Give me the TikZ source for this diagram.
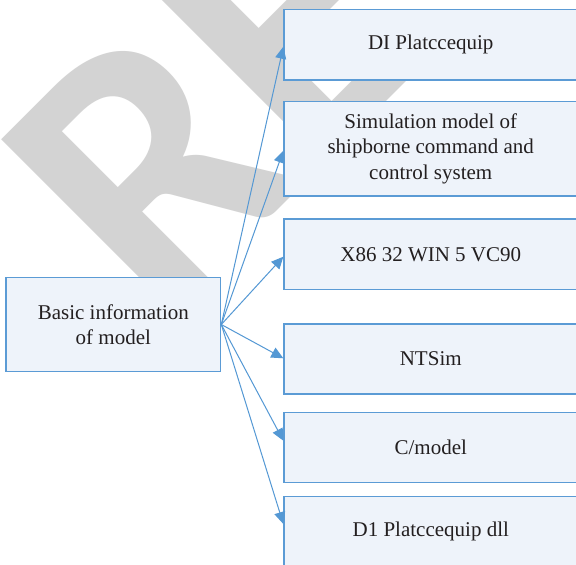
\documentclass[tikz,border=0pt]{standalone}
\usepackage{fontspec}
\setmainfont{Liberation Serif}
\newfontfamily\wmfont{Carlito}
\usetikzlibrary{arrows.meta}
\definecolor{bordblue}{RGB}{91,155,213}
\definecolor{arrblue}{RGB}{84,152,212}
\definecolor{boxfill}{RGB}{238,243,250}
\definecolor{wmgrey}{RGB}{211,211,211}
\definecolor{txt}{RGB}{35,31,32}
\begin{document}
\begin{tikzpicture}[x=1pt,y=-1pt,
  box/.style={draw=bordblue,fill=boxfill,line width=1.3pt,inner sep=0pt,align=center,text=txt,font=\fontsize{21}{25.5}\selectfont},
  rbox/.style={box,minimum width=293.5pt},
  conn/.style={draw=arrblue,line width=1pt,-{Triangle[length=12pt,width=11pt]}},
  wm/.style={rotate=45,anchor=base west,inner sep=0pt,text=wmgrey,font=\wmfont\bfseries\fontsize{378}{400}\selectfont}]
\clip (0,0) rectangle (576,565);
\fill[white] (0,0) rectangle (576,565);
\node[wm] (mark) at (159,329) {RETRACTED};
\node[box,minimum width=214.7pt,minimum height=94.4pt] (L) at (113.3,324.5) {Basic information\\of model};
\node[rbox,minimum height=70.7pt] (B1) at (430.75,44.7) {DI Platccequip};
\node[rbox,minimum height=94.3pt] (B2) at (430.75,148.8) {Simulation model of\\shipborne command and\\control system};
\node[rbox,minimum height=70.3pt] (B3) at (430.75,254.2) {X86 32 WIN 5 VC90};
\node[rbox,minimum height=70pt] (B4) at (430.75,359) {NTSim};
\node[rbox,minimum height=70.4pt] (B5) at (430.75,447.5) {C/model};
\node[rbox,minimum height=69.8pt] (B6) at (430.75,531.6) {D1 Platccequip dll};
\draw[conn] (L.east) -- ([yshift=-2pt]B1.west);
\draw[conn] (L.east) -- ([yshift=-1.9pt]B2.west);
\draw[conn] (L.east) -- ([yshift=-2.5pt]B3.west);
\draw[conn] (L.east) -- ([yshift=0.7pt]B4.west);
\draw[conn] (L.east) -- ([yshift=6.8pt]B5.west);
\draw[conn] (L.east) -- ([yshift=7.6pt]B6.west);
\end{tikzpicture}
\end{document}
